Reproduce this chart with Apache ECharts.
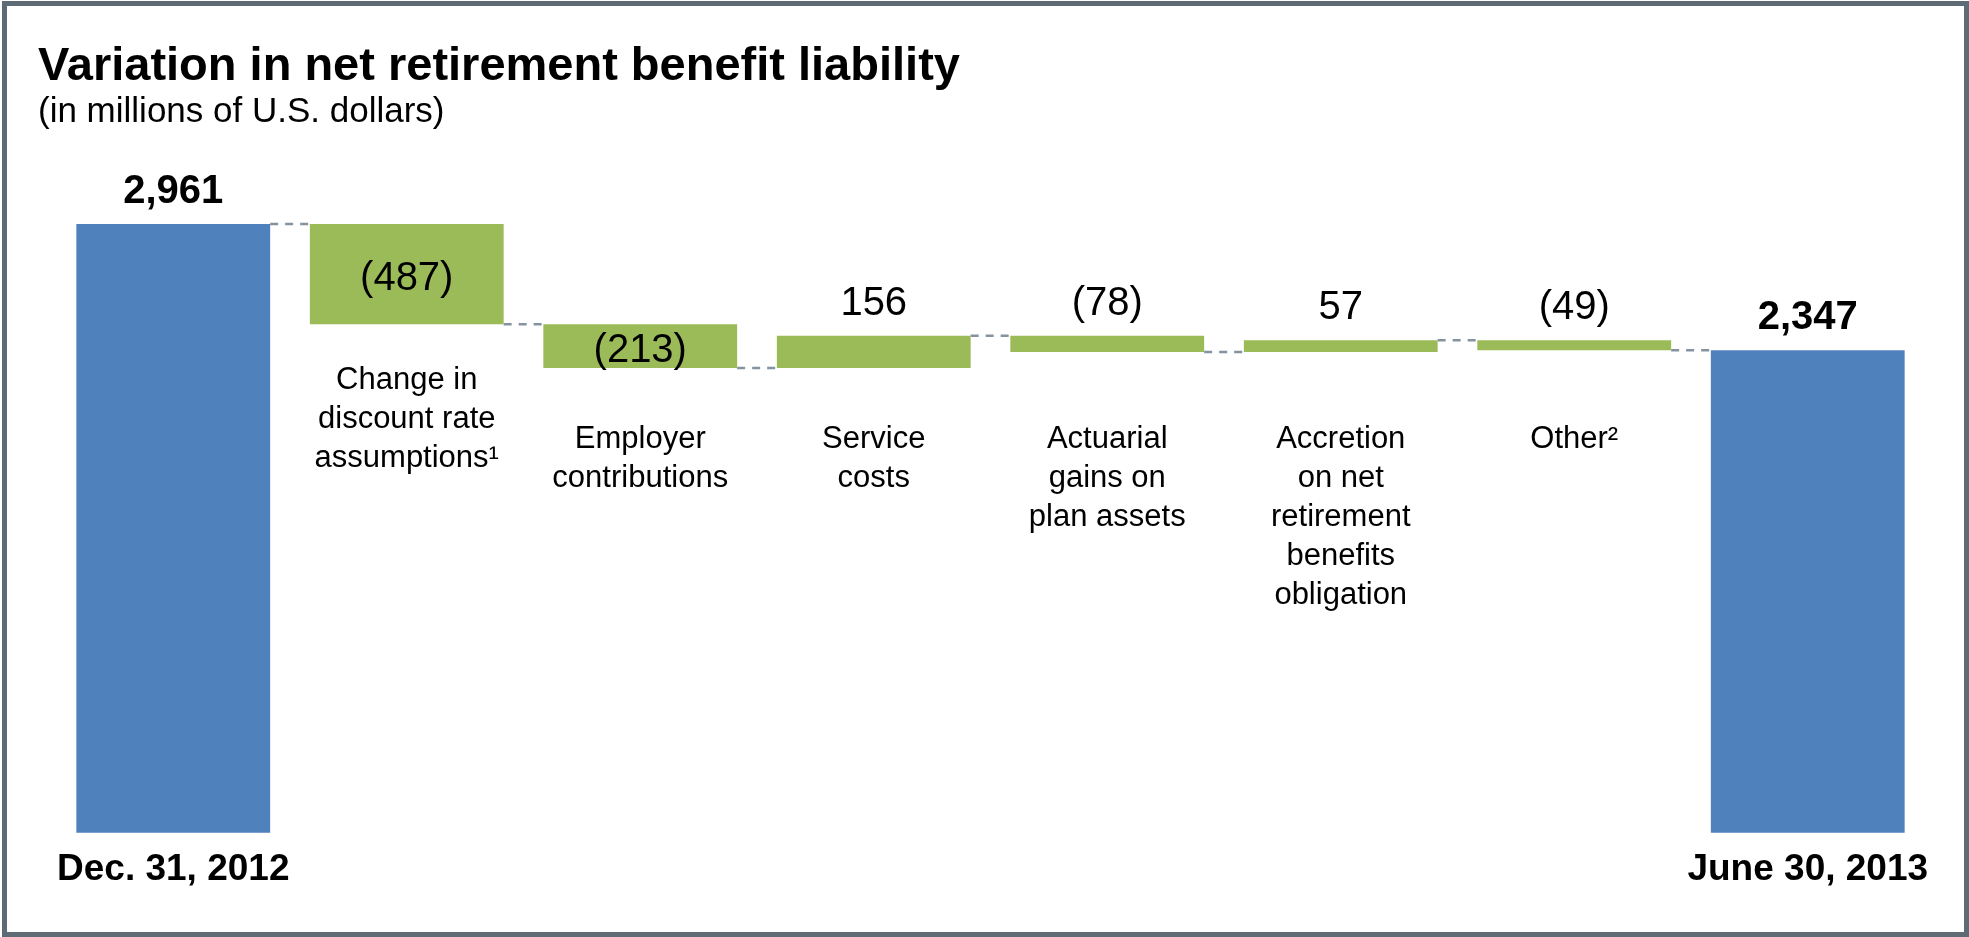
<!DOCTYPE html>
<html><head><meta charset="utf-8">
<script src="https://cdn.jsdelivr.net/npm/echarts@6/dist/echarts.min.js"></script>
<style>html,body{margin:0;padding:0;background:#fff}#c{width:1969px;height:937px}</style>
</head><body><div id="c"></div>
<script>
// ---- data ----
const categories = [
  'Dec. 31, 2012',
  'Change in\ndiscount rate\nassumptions\u00B9',
  'Employer\ncontributions',
  'Service\ncosts',
  'Actuarial\ngains on\nplan assets',
  'Accretion\non net\nretirement\nbenefits\nobligation',
  'Other\u00B2',
  'June 30, 2013'
];
const startTotal = 2961;
const endTotal = 2347;
const deltas = [-487, -213, 156, -78, 57, -49];
const titleText = 'Variation in net retirement benefit liability';
const subtitleText = '(in millions of U.S. dollars)';

// ---- derived ----
const FONT = "'Liberation Sans', Arial, sans-serif";
const BLUE = '#4f81bd', GREEN = '#9bbb59';
const n = categories.length;
const baseData = [0];
const barData = [{ value: startTotal, total: true }];
const levels = [startTotal];
let run = startTotal;
deltas.forEach(d => {
  const next = run + d;
  baseData.push(Math.min(run, next));
  barData.push({ value: Math.abs(d), delta: d });
  run = next;
  levels.push(run);
});
baseData.push(0);
barData.push({ value: endTotal, total: true });

const visData = barData.map(b => {
  if (b.total) {
    return {
      value: b.value, total: true,
      itemStyle: { color: BLUE },
      label: { show: true, position: 'top', distance: 12, fontSize: 40, fontWeight: 'bold', color: '#000', fontFamily: FONT }
    };
  }
  const inside = Math.abs(b.delta) >= 200;
  return {
    value: b.value, delta: b.delta,
    itemStyle: { color: GREEN },
    label: { show: true, position: inside ? 'inside' : 'top', offset: inside ? [0, 5] : [0, 0],
      distance: 12, fontSize: 40, color: '#000', fontFamily: FONT }
  };
});
const connData = levels.map((v, i) => [i, v]);
const BAR_RATIO = 0.83;

const chart = echarts.init(document.getElementById('c'), null, { renderer: 'canvas' });
chart.setOption({
  animation: false,
  backgroundColor: '#fff',
  title: [
    { text: titleText, left: 38, top: 44, padding: 0,
      textStyle: { fontSize: 47, fontWeight: 'bold', color: '#000', fontFamily: FONT } },
    { text: subtitleText, left: 38, top: 95, padding: 0,
      textStyle: { fontSize: 35, fontWeight: 'normal', color: '#000', fontFamily: FONT } }
  ],
  graphic: [{
    type: 'rect', silent: true, z: 100,
    shape: { x: 4.5, y: 3.5, width: 1962, height: 931 },
    style: { fill: 'none', stroke: '#5f6b74', lineWidth: 5 }
  }],
  grid: { left: 56.5, right: 44.5, top: 216, bottom: 104.3, containLabel: false, outerBoundsMode: 'none' },
  xAxis: [
    {
      type: 'category', data: categories, position: 'bottom',
      axisLine: { show: false }, axisTick: { show: false }, splitLine: { show: false },
      axisLabel: {
        interval: 0, margin: 19, fontSize: 37, fontWeight: 'bold', color: '#000', fontFamily: FONT,
        formatter: (v, i) => (i === 0 || i === n - 1) ? v : ''
      }
    },
    {
      type: 'category', position: 'bottom', offset: -413,
      data: categories.map((c, i) => i === 1 ? { value: c, textStyle: { verticalAlign: 'middle', padding: [17, 0, 0, 0] } } : c),
      axisLine: { show: false }, axisTick: { show: false }, splitLine: { show: false },
      axisLabel: {
        interval: 0, margin: 0, fontSize: 31, lineHeight: 39, color: '#000', fontFamily: FONT,
        formatter: (v, i) => (i === 0 || i === n - 1) ? '' : v
      }
    }
  ],
  yAxis: { type: 'value', min: 0, max: 3000, show: false, splitLine: { show: false } },
  series: [
    {
      type: 'bar', stack: 'w', data: baseData, barWidth: (BAR_RATIO * 100) + '%',
      itemStyle: { color: 'transparent' }, silent: true
    },
    {
      type: 'bar', stack: 'w', data: visData, barWidth: (BAR_RATIO * 100) + '%',
      label: {
        show: true,
        formatter: p => p.data.total ? p.data.value.toLocaleString('en-US')
          : (p.data.delta < 0 ? '(' + (-p.data.delta) + ')' : String(p.data.delta))
      }
    },
    {
      type: 'custom', data: connData, z: 1, silent: true,
      encode: { x: 0, y: 1 },
      renderItem: (params, api) => {
        const i = api.value(0), v = api.value(1);
        const p1 = api.coord([i, v]);
        const p2 = api.coord([i + 1, v]);
        const half = api.size([1, 0])[0] * BAR_RATIO / 2;
        return {
          type: 'line',
          shape: { x1: p1[0] + half, y1: p1[1], x2: p2[0] - half, y2: p2[1] },
          style: { stroke: '#8593a1', lineWidth: 2.5, lineDash: [8, 7] }
        };
      }
    }
  ]
});
</script></body></html>
